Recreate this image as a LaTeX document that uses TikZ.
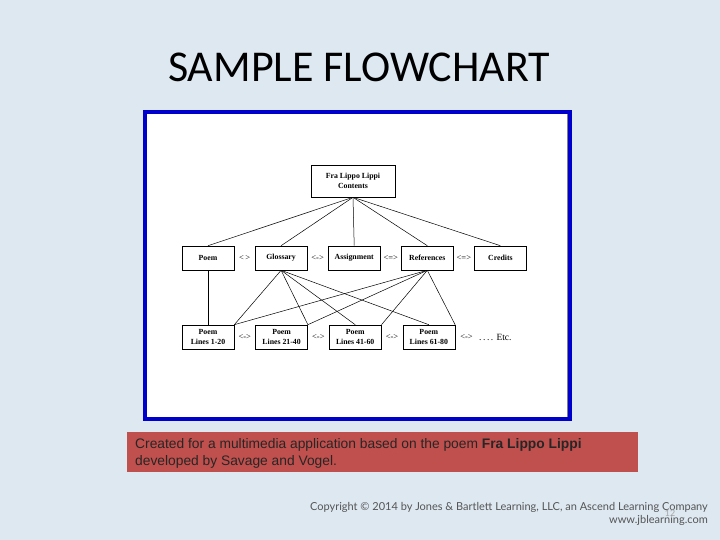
\documentclass[tikz,border=0pt]{standalone}
\usepackage{fontspec}
\setmainfont{Liberation Serif}
\newfontfamily\titlefont{Carlito}
\newfontfamily\captionfont{Liberation Sans}
\newfontfamily\footfont{Lato}
\usetikzlibrary{positioning}
\definecolor{slidebg}{RGB}{221,232,241}
\definecolor{frameblue}{RGB}{0,0,204}
\definecolor{capred}{RGB}{192,80,77}
\definecolor{footgray}{RGB}{85,85,85}

\begin{document}
\begin{tikzpicture}[
    x=1pt, y=-1pt,
    node distance=20.5pt,
    box/.style={draw, line width=0.6pt, minimum width=52pt, minimum height=24pt, inner sep=1pt, align=center, font=\fontsize{7.8}{10}\selectfont\bfseries},
    sep/.style={inner sep=0pt, font=\fontsize{8.5}{10}\selectfont},
    link/.style={line width=0.5pt}
]
\fill[slidebg] (0,0) rectangle (720,540);
\useasboundingbox (0,0) rectangle (720,540);
\node[anchor=base, inner sep=0pt, font=\titlefont\fontsize{44}{52}\selectfont] (title) at (359,82) {SAMPLE FLOWCHART};
\draw[frameblue, line width=4pt, fill=white] (145,112) rectangle (570,419);
\draw[gray, line width=0.6pt] (567,114) -- (567,417);

\node[box, minimum width=84pt, minimum height=32pt] (top) at (353,181) {Fra Lippo Lippi\\Contents};

\node[box] (poem) at (208,258) {Poem};
\node[box] (gloss) [right=of poem] {Glossary};
\node[box] (assign) [right=of gloss] {Assignment};
\node[box] (refs) [right=of assign] {References};
\node[box] (credits) [right=of refs] {Credits};

\node[box] (lines1) at (208,337) {Poem\\Lines 1-20};
\node[box] (lines2) [right=21pt of lines1] {Poem\\Lines 21-40};
\node[box] (lines3) [right=21pt of lines2] {Poem\\Lines 41-60};
\node[box] (lines4) [right=21pt of lines3] {Poem\\Lines 61-80};

\path (poem) -- node[sep] (s1) {<\,>} (gloss);
\path (gloss) -- node[sep] (s2) {<->} (assign);
\path (assign) -- node[sep] (s3) {<=>} (refs);
\path (refs) -- node[sep] (s4) {<=>} (credits);

\path (lines1) -- node[sep] (t1) {<->} (lines2);
\path (lines2) -- node[sep] (t2) {<->} (lines3);
\path (lines3) -- node[sep] (t3) {<->} (lines4);
\node[sep, right=5pt of lines4] (t4) {<->};
\node[sep, right=6pt of t4, font=\fontsize{9.5}{11}\selectfont] (etc) {.\,.\,.\,. Etc.};

\draw[link] (top.south) -- (poem.north);
\draw[link] (top.south) -- (gloss.north);
\draw[link] (top.south) -- (assign.north);
\draw[link] (top.south) -- (refs.north);
\draw[link] (top.south) -- (credits.north);

\draw[link] (poem) -- (lines1);
\draw[link] (gloss.south) -- (lines1.north east);
\draw[link] (gloss.south) -- (lines2.north east);
\draw[link] (gloss.south) -- (lines3.north);
\draw[link] (gloss.south) -- (lines4.north);
\draw[link] (refs.south) -- (lines1.north east);
\draw[link] (refs.south) -- (lines2.north east);
\draw[link] (refs.south) -- (lines3.north east);
\draw[link] (refs.south) -- (lines4.north east);

\fill[capred] (127,432) rectangle (638,472);
\node[anchor=base west, inner sep=0pt, text=black!85, font=\captionfont\fontsize{13.8}{16}\selectfont] (cap1) at (135,448) {Created for a multimedia application based on the poem \textbf{Fra Lippo Lippi}};
\node[anchor=base west, inner sep=0pt, text=black!85, font=\captionfont\fontsize{13.8}{16}\selectfont] (cap2) at (135,465) {developed by Savage and Vogel.};

\node[anchor=base east, inner sep=0pt, text=footgray, font=\footfont\fontsize{11}{13}\selectfont] (copy) at (708,510) {Copyright \textcopyright{} 2014 by Jones \& Bartlett Learning, LLC, an Ascend Learning Company};
\node[anchor=base east, inner sep=0pt, text=footgray, font=\footfont\fontsize{11}{13}\selectfont] (web) at (708,523) {www.jblearning.com};
\node[anchor=base, inner sep=0pt, text=gray!70, font=\footfont\fontsize{9}{11}\selectfont] (page) at (670,516) {12};
\end{tikzpicture}
\end{document}
